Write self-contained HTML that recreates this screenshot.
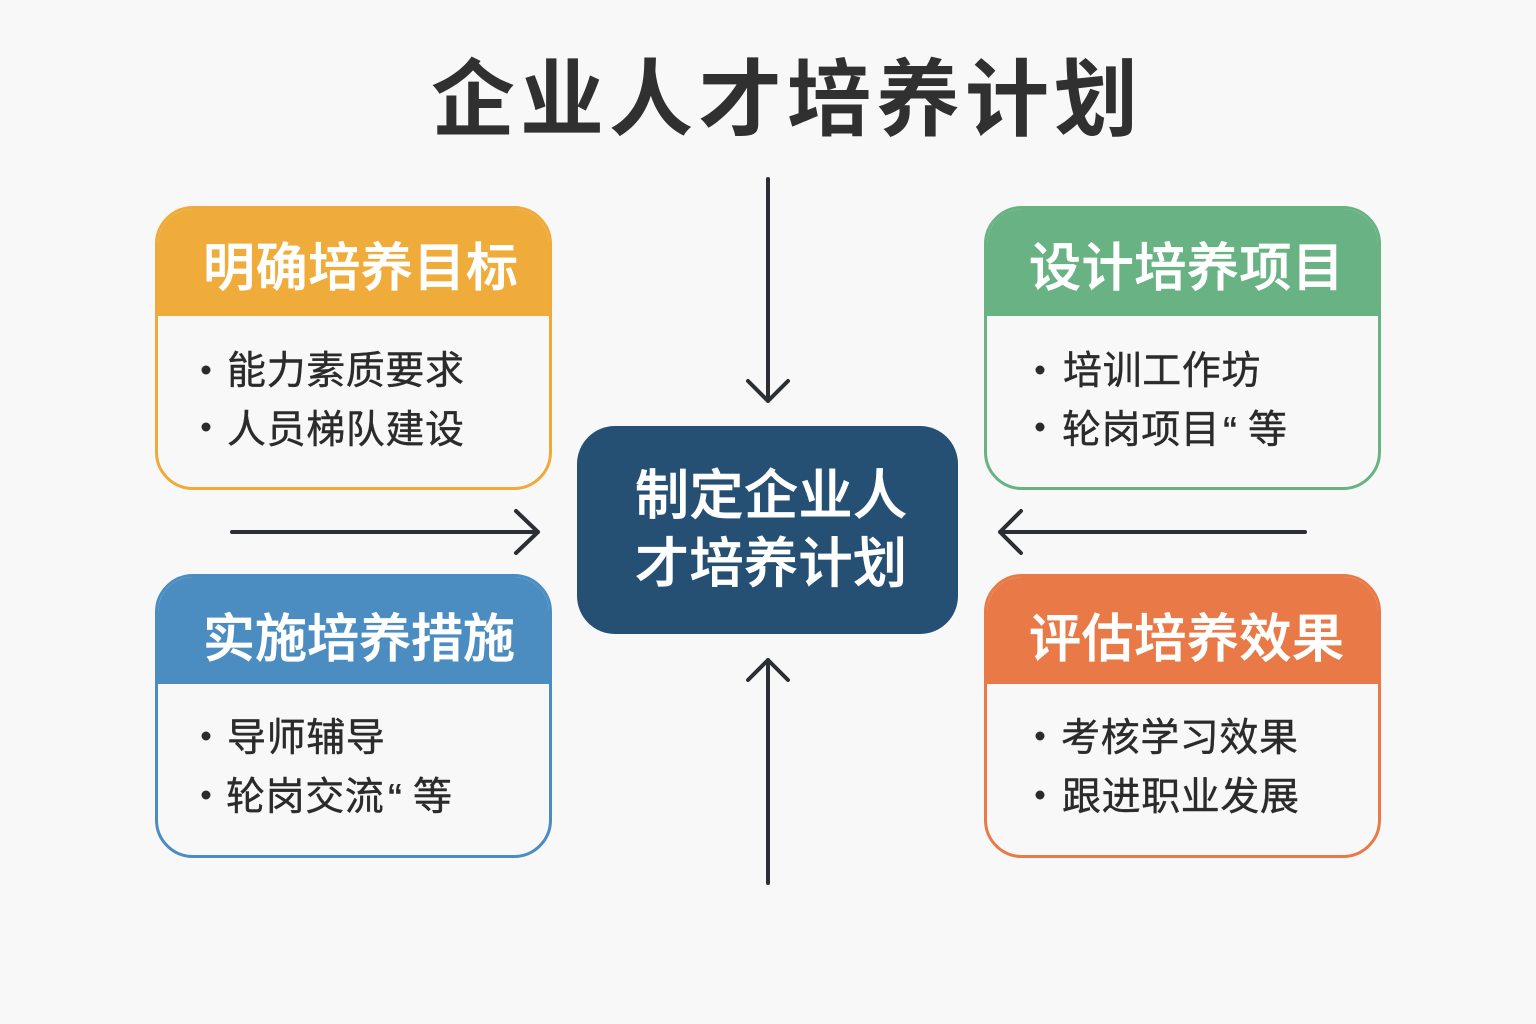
<!DOCTYPE html>
<html lang="zh">
<head>
<meta charset="utf-8">
<style>
html,body{margin:0;padding:0;background:#f8f8f8}
body{width:1536px;height:1024px;position:relative;overflow:hidden;font-family:"Liberation Sans","Noto Sans CJK SC",sans-serif}
.t{position:absolute;white-space:nowrap;line-height:1}
.card{position:absolute;box-sizing:border-box;width:397px;background:#f8f8f8;border:3px solid;border-radius:38px;overflow:hidden}
.card .h{position:absolute;left:-3px;top:-3px;width:397px;height:110px}
.hd{font-size:52px;font-weight:500;color:#fff;letter-spacing:.6px;-webkit-text-stroke:.7px #fff}
.b{font-size:39px;color:#2b2b2b;letter-spacing:.6px;-webkit-text-stroke:.4px #2b2b2b}
.c{font-size:54px;font-weight:500;color:#fff;letter-spacing:.5px;-webkit-text-stroke:.7px #fff}
</style>
</head>
<body>
<div class="t" style="left:431px;top:58px;font-size:84px;font-weight:700;color:#303030;letter-spacing:5px">企业人才培养计划</div>

<div class="card" style="left:155px;top:206px;height:284px;border-color:#efab3a"><div class="h" style="background:#f0ac3b"></div></div>
<div class="card" style="left:984px;top:206px;height:284px;border-color:#69b283"><div class="h" style="background:#69b283"></div></div>
<div class="card" style="left:155px;top:574px;height:284px;border-color:#4b8dc1"><div class="h" style="background:#4b8dc1"></div></div>
<div class="card" style="left:984px;top:574px;height:284px;border-color:#e97a48"><div class="h" style="background:#e97a48"></div></div>

<div class="t hd" style="left:203px;top:243px">明确培养目标</div>
<div class="t hd" style="left:1029px;top:243px">设计培养项目</div>
<div class="t hd" style="left:203px;top:614px;letter-spacing:0">实施培养措施</div>
<div class="t hd" style="left:1029px;top:614px">评估培养效果</div>

<div class="t b" style="left:227px;top:352px">能力素质要求</div>
<div class="t b" style="left:227px;top:411px">人员梯队建设</div>
<div class="t b" style="left:1063px;top:352px">培训工作坊</div>
<div class="t b" style="left:1062px;top:411px">轮岗项目</div>
<div class="t b" style="left:1223px;top:411px;font-size:42px">“</div>
<div class="t b" style="left:1248px;top:411px">等</div>
<div class="t b" style="left:227px;top:719px">导师辅导</div>
<div class="t b" style="left:226px;top:778px">轮岗交流</div>
<div class="t b" style="left:388px;top:778px;font-size:42px">“</div>
<div class="t b" style="left:413px;top:778px">等</div>
<div class="t b" style="left:1061px;top:719px">考核学习效果</div>
<div class="t b" style="left:1062px;top:778px">跟进职业发展</div>

<div style="position:absolute;left:577px;top:426px;width:381px;height:208px;background:#265073;border-radius:38px"></div>
<div class="t c" style="left:635px;top:469px">制定企业人</div>
<div class="t c" style="left:635px;top:537px">才培养计划</div>

<svg width="1536" height="1024" style="position:absolute;left:0;top:0" fill="none">
<g fill="#2b2b2b">
<circle cx="206" cy="370" r="4.5"/><circle cx="206" cy="427" r="4.5"/>
<circle cx="1040" cy="370" r="4.5"/><circle cx="1040" cy="427" r="4.5"/>
<circle cx="206" cy="736" r="4.5"/><circle cx="206" cy="795" r="4.5"/>
<circle cx="1040" cy="736" r="4.5"/><circle cx="1040" cy="795" r="4.5"/>
</g>
<g stroke="#2b2f33" stroke-width="4" stroke-linecap="round" stroke-linejoin="round">
<path d="M768 179V401M748 381L768 401L788 381"/>
<path d="M768 883V660M748 680L768 660L788 680"/>
<path d="M232 532H538M516 511L538 532L516 553"/>
<path d="M1305 532H1000M1021 511L1000 532L1021 553"/>
</g>
</svg>
</body>
</html>
